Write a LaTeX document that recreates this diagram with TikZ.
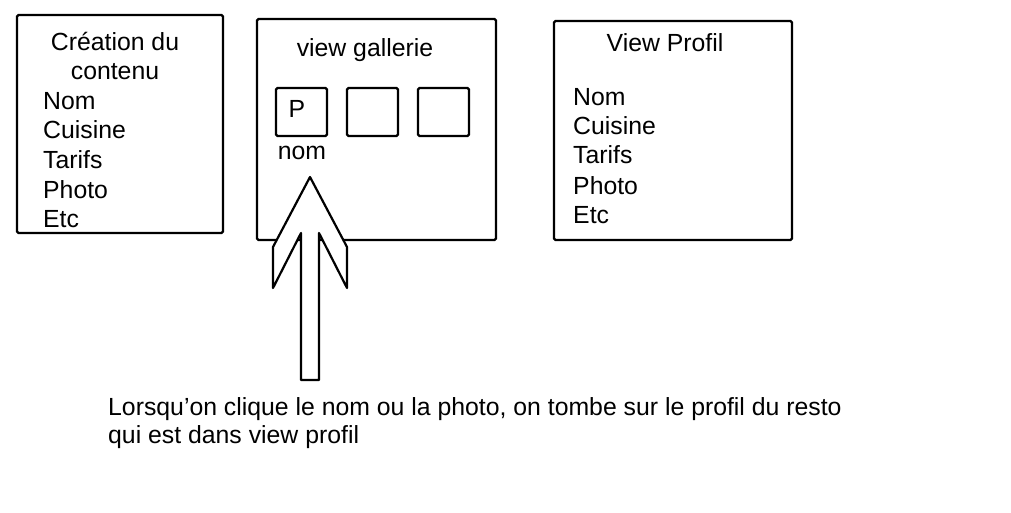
\documentclass[tikz,border=0pt]{standalone}
\usepackage{fontspec}
\setmainfont{Liberation Sans}
\begin{document}
\begin{tikzpicture}[x=1pt,y=-1pt,
  frame/.style={draw=black,line width=2.2pt,rounded corners=1.5pt,inner sep=0pt},
  thumb/.style={frame,minimum width=51pt,minimum height=48pt},
  lbl/.style={inner sep=0pt,font=\fontsize{24.8}{28}\selectfont},
  blockarrow/.style={draw=black,fill=white,line width=2.2pt,line join=round}]
\useasboundingbox (0,0) rectangle (1011,513);

% three screens
\node[frame,minimum width=206pt,minimum height=218pt] (create) at (120,124) {};
\node[frame,minimum width=239pt,minimum height=221pt] (gallery) at (376.5,129.5) {};
\node[frame,minimum width=238pt,minimum height=219pt] (profile) at (673,130.5) {};

% content creation screen
\node[lbl,anchor=base] (ctitle1) at (115,51) {Création du};
\node[lbl,anchor=base] (ctitle2) at (115,80) {contenu};
\node[lbl,anchor=base west] (cnom) at (43,110) {Nom};
\node[lbl,anchor=base west] (ccuis) at (43,139) {Cuisine};
\node[lbl,anchor=base west] (ctarif) at (43,168) {Tarifs};
\node[lbl,anchor=base west] (cphoto) at (43,198) {Photo};
\node[lbl,anchor=base west] (cetc) at (43,227) {Etc};

% gallery screen
\node[lbl,anchor=base] (gtitle) at (365,57) {view gallerie};
\node[thumb] (t1) at (301.5,112) {};
\node[thumb] (t2) at (372.5,112) {};
\node[thumb] (t3) at (443.5,112) {};
\node[lbl,anchor=base] (tp) at (297,118) {P};
\node[lbl,anchor=base] (tnom) at (302,160) {nom};

% profile screen
\node[lbl,anchor=base] (ptitle) at (665,52) {View Profil};
\node[lbl,anchor=base west] (pnom) at (573,106) {Nom};
\node[lbl,anchor=base west] (pcuis) at (573,135) {Cuisine};
\node[lbl,anchor=base west] (ptarif) at (573,164) {Tarifs};
\node[lbl,anchor=base west] (pphoto) at (573,194) {Photo};
\node[lbl,anchor=base west] (petc) at (573,223) {Etc};

% block arrow pointing at the thumbnail name
\draw[blockarrow] (310,177) -- (347,247) -- (347,288) -- (319,233) -- (319,380)
  -- (301,380) -- (301,233) -- (273,288) -- (273,247) -- cycle;

% caption
\node[lbl,anchor=base west] (cap1) at (108,415) {Lorsqu’on clique le nom ou la photo, on tombe sur le profil du resto};
\node[lbl,anchor=base west] (cap2) at (108,443) {qui est dans view profil};
\end{tikzpicture}
\end{document}
